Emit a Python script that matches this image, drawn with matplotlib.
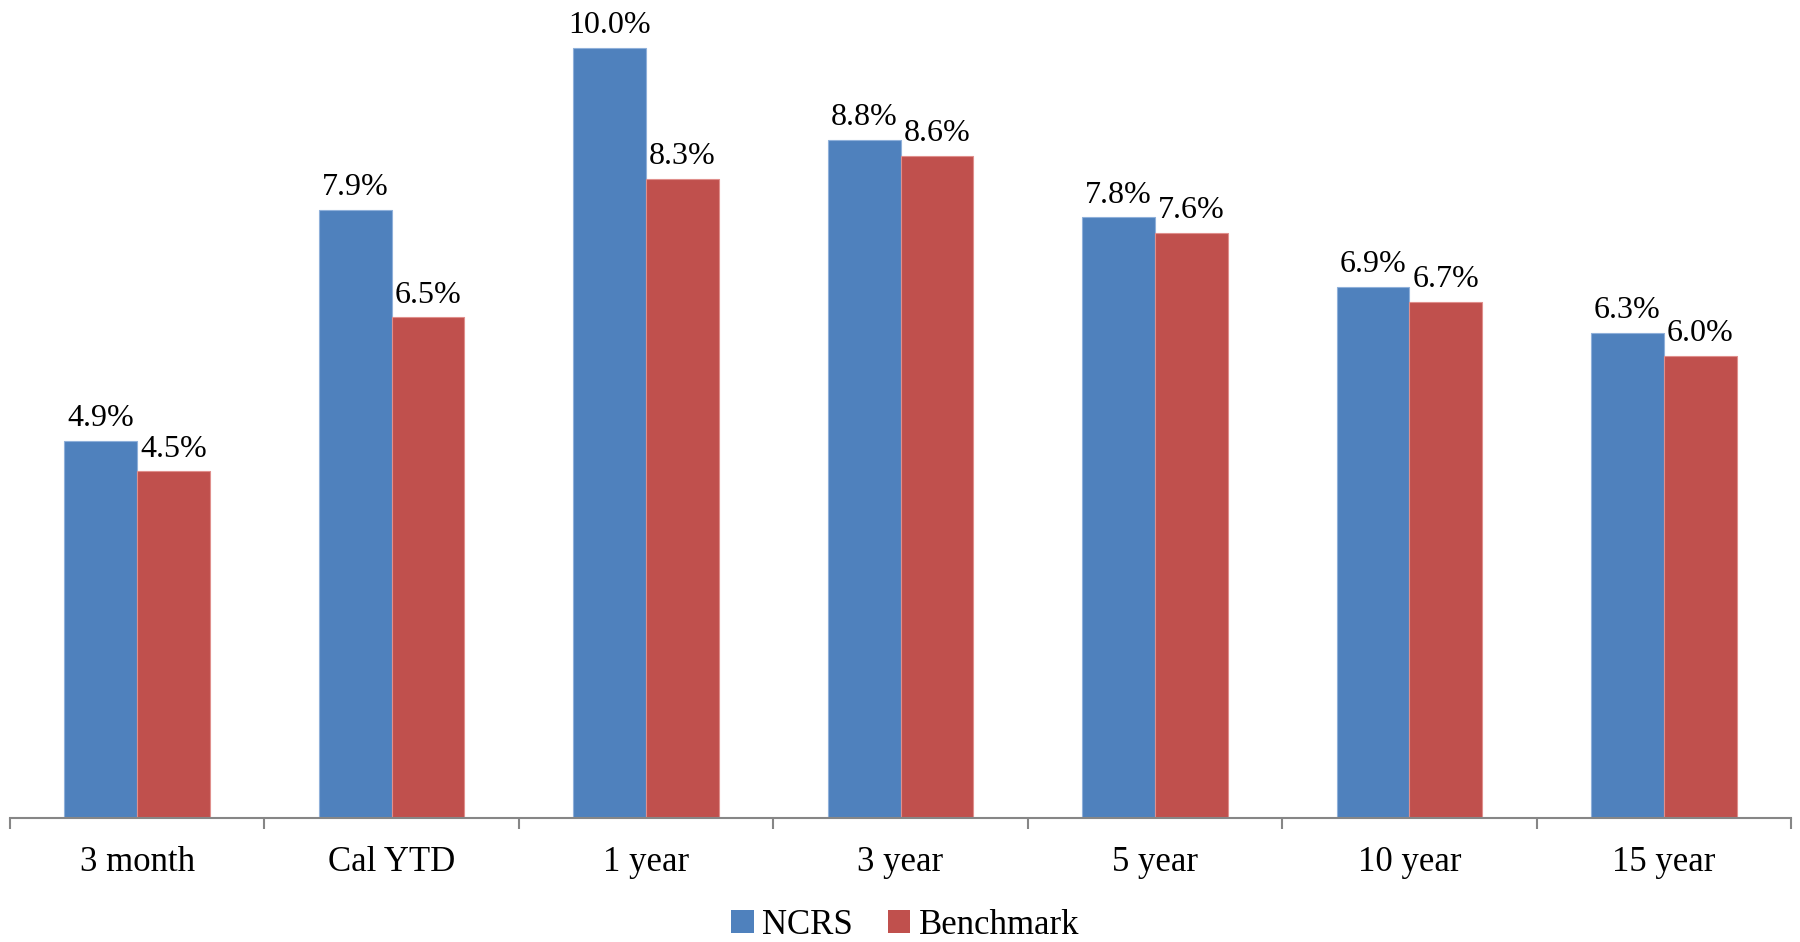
import matplotlib
matplotlib.use("Agg")
import matplotlib.pyplot as plt
import numpy as np
from matplotlib.patches import Patch

periods = ["3 month", "Cal YTD", "1 year", "3 year", "5 year", "10 year", "15 year"]
ncrs = [4.9, 7.9, 10.0, 8.8, 7.8, 6.9, 6.3]
benchmark = [4.5, 6.5, 8.3, 8.6, 7.6, 6.7, 6.0]

BLUE = "#4F81BD"
RED = "#C0504D"
AXIS_GREY = "#868686"

plt.rcParams["font.family"] = ["Liberation Serif", "DejaVu Serif"]

fig = plt.figure(figsize=(18, 9.42), dpi=100)
ax = fig.add_axes([10 / 1800, 1 - 818 / 942, 1781 / 1800, 818 / 942])

x = np.arange(len(periods))
w = 0.286
b1 = ax.bar(x - w / 2, ncrs, w, color=BLUE, edgecolor="#8FB0DA", linewidth=0.8)
b2 = ax.bar(x + w / 2, benchmark, w, color=RED, edgecolor="#E08F8C", linewidth=0.8)

for bars, vals in ((b1, ncrs), (b2, benchmark)):
    for bar, v in zip(bars, vals):
        ax.text(bar.get_x() + bar.get_width() / 2, v + 0.1, f"{v:.1f}%",
                ha="center", va="bottom", fontsize=23)

ax.set_xlim(-0.5, len(periods) - 0.5)
ax.set_ylim(0, 10.62)

# category labels centred, tick marks on the category boundaries
ax.set_xticks(x)
ax.set_xticklabels(periods, fontsize=25)
ax.tick_params(axis="x", which="major", length=0, pad=20)
ax.set_xticks(np.arange(-0.5, len(periods)), minor=True)
ax.tick_params(axis="x", which="minor", length=8, width=1.5, color=AXIS_GREY)
ax.set_yticks([])

for side in ("top", "right", "left"):
    ax.spines[side].set_visible(False)
ax.spines["bottom"].set_color(AXIS_GREY)
ax.spines["bottom"].set_linewidth(1.5)

handles = [Patch(facecolor=BLUE, label="NCRS"), Patch(facecolor=RED, label="Benchmark")]
fig.legend(handles=handles, loc="center", bbox_to_anchor=(0.503, 1 - 925 / 942),
           ncol=2, frameon=False, fontsize=25, handlelength=0.65, handleheight=0.65,
           handletextpad=0.25, columnspacing=1.0)

fig.savefig("out.png", dpi=100)
